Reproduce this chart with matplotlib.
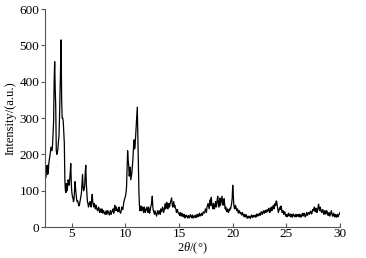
import numpy as np
import matplotlib
matplotlib.use("Agg")
import matplotlib.pyplot as plt

x_start = 2.5
x_step = 0.1
# intensity read at 2.5, 2.6, ... 30.0
intensity = [
    155, 140, 170, 150, 185,
    205, 215, 225, 290, 455, 330, 200, 215, 250, 365,
    515, 300, 290, 230, 100, 120, 110, 125, 130, 175,
    95, 80, 75, 125, 90, 70, 65, 60, 75, 95,
    145, 100, 115, 170, 95, 65, 60, 70, 55, 90,
    60, 65, 50, 55, 45, 55, 40, 45, 50, 38,
    42, 35, 45, 38, 40, 33, 45, 40, 48, 38,
    60, 45, 50, 42, 55, 40, 45, 50, 60, 75,
    85, 110, 210, 170, 150, 130, 150, 190, 240, 225,
    270, 330, 180, 60, 50, 45, 55, 40, 50, 45,
    55, 40, 50, 45, 60, 85, 45, 35, 40, 30,
    45, 35, 40, 50, 45, 50, 45, 65, 55, 60,
    60, 55, 70, 80, 55, 70, 60, 50, 45, 40,
    35, 40, 30, 35, 28, 32, 27, 30, 25, 30,
    28, 32, 25, 30, 27, 33, 28, 35, 30, 38,
    32, 38, 35, 40, 42, 45, 55, 65, 50, 75,
    82, 55, 65, 50, 70, 60, 85, 55, 80, 65,
    85, 60, 78, 50, 45, 50, 40, 45, 50, 65,
    115, 60, 50, 55, 45, 40, 45, 38, 35, 40,
    32, 35, 28, 30, 27, 25, 30, 28, 32, 30,
    28, 33, 30, 35, 32, 38, 35, 40, 38, 45,
    42, 40, 48, 45, 50, 45, 55, 50, 60, 55,
    60, 70, 50, 45, 55, 58, 40, 45, 38, 35,
    35, 30, 38, 32, 28, 35, 30, 33, 28, 35,
    30, 35, 28, 33, 30, 38, 32, 35, 30, 40,
    35, 40, 38, 42, 40, 45, 55, 42, 48, 45,
    63, 45, 50, 40, 48, 35, 45, 38, 42, 32,
    40, 35, 45, 30, 38, 28, 33, 30, 28, 35,
    40,
]
# intensity read at 2.55, 2.65, ... 29.95
intensity_mid = [
    135, 165, 145, 175, 195,
    220, 210, 260, 400, 380, 210, 205, 235, 300, 440,
    350, 300, 260, 130, 95, 100, 130, 115, 150, 120,
    85, 70, 100, 105, 75, 72, 58, 68, 85, 120,
    110, 105, 150, 120, 70, 55, 68, 60, 75, 70,
    55, 58, 60, 48, 50, 45, 50, 40, 42, 45,
    38, 40, 35, 45, 38, 40, 35, 42, 50, 45,
    50, 55, 45, 50, 45, 38, 55, 48, 70, 80,
    95, 160, 185, 140, 165, 140, 170, 220, 215, 250,
    300, 260, 100, 45, 58, 50, 45, 55, 40, 50,
    45, 55, 38, 55, 70, 55, 40, 45, 35, 38,
    40, 45, 35, 42, 55, 40, 55, 50, 68, 50,
    65, 62, 75, 65, 62, 55, 52, 40, 48, 38,
    32, 34, 38, 30, 35, 25, 33, 28, 32, 25,
    34, 28, 33, 25, 30, 26, 32, 28, 35, 30,
    35, 32, 42, 38, 50, 40, 60, 58, 65, 60,
    65, 50, 58, 62, 55, 75, 68, 70, 60, 75,
    70, 65, 60, 55, 42, 45, 48, 52, 58, 80,
    85, 52, 60, 48, 50, 38, 42, 40, 33, 36,
    28, 30, 34, 24, 30, 28, 24, 33, 26, 32,
    30, 27, 36, 30, 36, 32, 42, 35, 44, 38,
    46, 44, 42, 52, 40, 52, 45, 58, 50, 65,
    72, 58, 40, 50, 48, 50, 42, 35, 42, 30,
    28, 35, 30, 36, 32, 27, 36, 30, 32, 28,
    33, 30, 35, 27, 34, 30, 38, 28, 36, 32,
    38, 35, 44, 36, 48, 50, 45, 52, 40, 55,
    52, 55, 42, 45, 40, 42, 36, 45, 35, 38,
    30, 40, 35, 33, 30, 35, 27, 35, 30, 36,
]

main_x = x_start + x_step * np.arange(len(intensity))
mid_x = main_x[:-1] + x_step / 2
n = len(intensity) + len(intensity_mid)
two_theta = np.empty(n)
counts = np.empty(n)
two_theta[0::2] = main_x
two_theta[1::2] = mid_x
counts[0::2] = intensity
counts[1::2] = intensity_mid

x_ticks = [5, 10, 15, 20, 25, 30]
y_ticks = [0, 100, 200, 300, 400, 500, 600]

plt.rcParams['font.family'] = ['Liberation Serif', 'DejaVu Serif']
plt.rcParams['mathtext.fontset'] = 'custom'
plt.rcParams['mathtext.it'] = 'Liberation Serif:italic'
plt.rcParams['mathtext.rm'] = 'Liberation Serif'

fig = plt.figure(figsize=(3.66, 2.58), dpi=100)
ax = fig.add_axes([0.123, 0.12, 0.806, 0.845])
ax.plot(two_theta, counts, color='black', lw=0.9)
ax.set_xlim(2.5, 30)
ax.set_ylim(0, 600)
ax.set_xticks(x_ticks)
ax.set_yticks(y_ticks)
for s in ['top', 'right']:
    ax.spines[s].set_visible(False)
for s in ['left', 'bottom']:
    ax.spines[s].set_color('#555555')
    ax.spines[s].set_linewidth(0.8)
ax.tick_params(axis='x', direction='in', length=3, labelsize=9.5, pad=1, color='#555555')
ax.tick_params(axis='y', direction='out', length=3, labelsize=9.5, pad=1, color='#555555')
ax.set_xlabel(r'2$\mathit{\theta}$/(°)', fontsize=9, labelpad=0)
ax.set_ylabel('Intensity/(a.u.)', fontsize=9, labelpad=2)
fig.savefig('out.png', dpi=100)
